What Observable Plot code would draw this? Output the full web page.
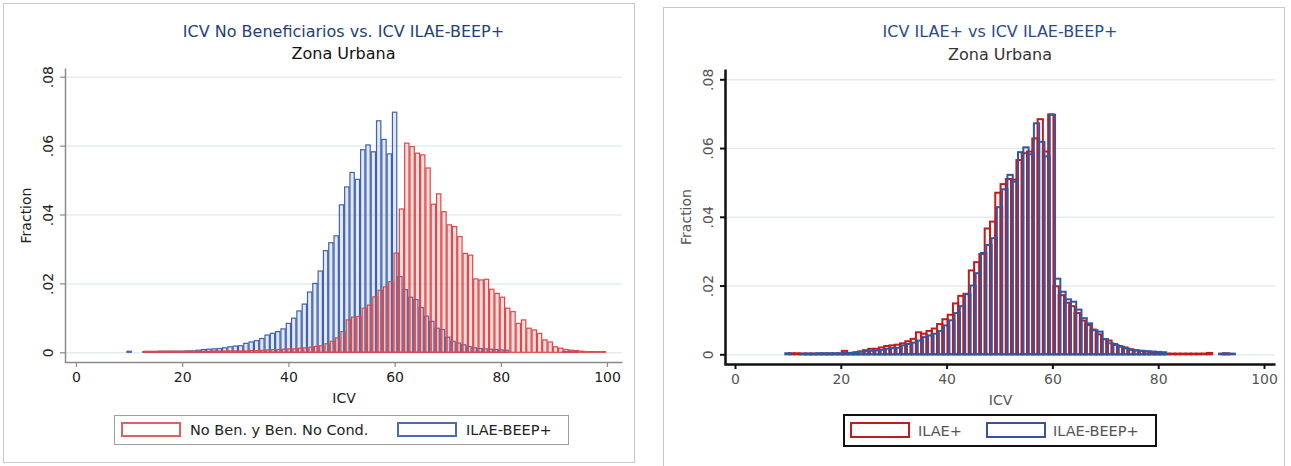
<!DOCTYPE html>
<html><head><meta charset="utf-8">
<script src="https://cdn.jsdelivr.net/npm/d3@7"></script>
<script src="https://cdn.jsdelivr.net/npm/@observablehq/plot@0.6"></script>
<style>
body{margin:0;background:#fff;font-family:"DejaVu Sans",sans-serif;}
#page{position:relative;width:1291px;height:466px;overflow:hidden;background:#fff;}
.panel{position:absolute;box-sizing:border-box;}
.title{position:absolute;text-align:center;font-size:16px;line-height:18px;white-space:nowrap;}
.plot{position:absolute;}
.legend{position:absolute;box-sizing:border-box;background:#fff;}
.item{position:absolute;font-size:14.5px;line-height:16px;white-space:nowrap;}
.swatch{position:absolute;box-sizing:border-box;}
</style>
</head><body>
<div id="page"></div>
<script>
// ---------- DATA (fractions) ----------
const binWidth = 1;
const xTicks = [0, 20, 40, 60, 80, 100];
const yTicks = [0, 0.02, 0.04, 0.06, 0.08];

// ILAE-BEEP+ (blue) — first bin centred at ICV 10
const beepStart = 10;
const beepFraction = [
  0.0003, 0, 0, 0.0002, 0.0002, 0.0002, 0.0003, 0.0003, 0.0003, 0.0003,
  0.0003, 0.0004, 0.0004, 0.0006, 0.0008, 0.0009, 0.0010, 0.0011, 0.0013, 0.0016,
  0.0018, 0.0019, 0.0026, 0.0030, 0.0034, 0.0040, 0.0050, 0.0055, 0.0060, 0.0068,
  0.0084, 0.0099, 0.0120, 0.0140, 0.0175, 0.0200, 0.0236, 0.0295, 0.0318, 0.0338,
  0.0428, 0.0480, 0.0522, 0.0502, 0.0588, 0.0602, 0.0582, 0.0672, 0.0618, 0.0576,
  0.0697, 0.0220, 0.0182, 0.0160, 0.0153, 0.0130, 0.0105, 0.0090, 0.0070, 0.0066,
  0.0044, 0.0032, 0.0027, 0.0022, 0.0017, 0.0013, 0.0011, 0.0010, 0.0009, 0.0008,
  0.0007, 0.0006, 0, 0, 0, 0, 0, 0, 0, 0,
  0, 0, 0.0002, 0.0002, 0.0002
];

// No Ben. y Ben. No Cond. (red, left panel) — first bin centred at ICV 13.3
const noBenStart = 13.3;
const noBenFraction = [
  0.0003, 0.0003, 0.0003, 0.0003, 0.0003, 0.0003, 0.0003,
  0.0003, 0.0003, 0.0003, 0.0003, 0.0003, 0.0003, 0.0004, 0.0004, 0.0004, 0.0004,
  0.0004, 0.0004, 0.0004, 0.0005, 0.0005, 0.0006, 0.0007, 0.0008, 0.0008, 0.0009,
  0.0010, 0.0010, 0.0012, 0.0013, 0.0015, 0.0017, 0.0019, 0.0025, 0.0032, 0.0042,
  0.0060, 0.0094, 0.0102, 0.0104, 0.0128, 0.0137, 0.0161, 0.0180, 0.0190, 0.0205,
  0.0288, 0.0416, 0.0607, 0.0597, 0.0578, 0.0573, 0.0535, 0.0430, 0.0460, 0.0408,
  0.0370, 0.0365, 0.0336, 0.0287, 0.0282, 0.0213, 0.0210, 0.0212, 0.0183, 0.0171,
  0.0160, 0.0128, 0.0118, 0.0084, 0.0094, 0.0070, 0.0065, 0.0055, 0.0036, 0.0030,
  0.0016, 0.0012, 0.0008, 0.0006, 0.0005, 0.0003, 0.0002, 0.0002, 0.0002, 0.0002
];

// ILAE+ (red, right panel) — first bin centred at ICV 10.7
const ilaeStart = 10.7;
const ilaeFraction = [
  0.0003, 0.0003, 0.0002, 0.0002, 0.0002, 0.0002, 0.0002, 0.0002, 0.0002, 0.0002,
  0.0010, 0.0003, 0.0005, 0.0008, 0.0012, 0.0016, 0.0016, 0.0020, 0.0024, 0.0026,
  0.0028, 0.0032, 0.0038, 0.0045, 0.0064, 0.0060, 0.0068, 0.0075, 0.0088, 0.0102,
  0.0115, 0.0148, 0.0170, 0.0176, 0.0244, 0.0268, 0.0292, 0.0366, 0.0386, 0.0470,
  0.0495, 0.0510, 0.0508, 0.0565, 0.0585, 0.0590, 0.0628, 0.0684, 0.0590, 0.0698,
  0.0198, 0.0172, 0.0150, 0.0140, 0.0120, 0.0098, 0.0085, 0.0072, 0.0058, 0.0044,
  0.0040, 0.0030, 0.0024, 0.0020, 0.0015, 0.0012, 0.0010, 0.0008, 0.0006, 0.0005,
  0.0002, 0.0002, 0.0002, 0.0002, 0.0002, 0.0002, 0.0002, 0.0002, 0.0002, 0.0004,
  0, 0, 0.0003
];

const leftTitle = ["ICV No Beneficiarios vs. ICV ILAE-BEEP+", "Zona Urbana"];
const rightTitle = ["ICV ILAE+ vs ICV ILAE-BEEP+", "Zona Urbana"];
const leftLegend = ["No Ben. y Ben. No Cond.", "ILAE-BEEP+"];
const rightLegend = ["ILAE+", "ILAE-BEEP+"];

// ---------- helpers ----------
const bins = (start, fr) => fr.map((f, i) => ({icv: start + i * binWidth, fraction: f})).filter(d => d.fraction > 0);
const fmtY = d => d === 0 ? "0" : d3.format(".2f")(d).replace(/^0/, "");
const page = document.getElementById("page");

function el(tag, cls, style, text) {
  const e = document.createElement(tag);
  if (cls) e.className = cls;
  Object.assign(e.style, style);
  if (text != null) e.textContent = text;
  page.appendChild(e);
  return e;
}

function drawPanel(o) {
  const H = 350, top = 60;
  const fw = o.width - o.marginLeft - o.marginRight;
  const fh = H - o.marginTop - o.marginBottom;
  const marks = [
    Plot.gridY(yTicks, {stroke: o.gridColor, strokeOpacity: 1, strokeWidth: 1.5})
  ];
  for (const s of o.series) {
    marks.push(Plot.rectY(s.data, {
      x1: d => d.icv - binWidth / 2, x2: d => d.icv + binWidth / 2, y: "fraction",
      fill: s.fill, fillOpacity: s.fillOpacity, stroke: s.stroke, strokeWidth: s.strokeWidth,
      insetLeft: s.inset, insetRight: s.inset
    }));
  }
  marks.push(
    Plot.frame({stroke: o.axisColor, strokeWidth: o.axisWidth, strokeDasharray: `0,${fw + fh},${fw + fh}`}),
    Plot.axisX({ticks: xTicks, tickSize: 5, tickPadding: 5, stroke: o.axisColor, strokeWidth: o.axisWidth * 0.8,
      fill: o.textColor, label: "ICV", labelAnchor: "center", labelOffset: 40, labelArrow: "none"}),
    Plot.axisY({ticks: yTicks, tickSize: 5, tickPadding: 8, tickRotate: -90, tickFormat: fmtY,
      stroke: o.axisColor, strokeWidth: o.axisWidth * 0.8, fill: o.textColor,
      label: "Fraction", labelAnchor: "center", labelOffset: 44, labelArrow: "none"})
  );
  const svg = Plot.plot({
    width: o.width, height: H,
    marginLeft: o.marginLeft, marginRight: o.marginRight, marginTop: o.marginTop, marginBottom: o.marginBottom,
    style: {fontFamily: "DejaVu Sans, sans-serif", fontSize: "14px", background: "transparent", overflow: "visible"},
    x: {domain: [0, 100], insetLeft: o.insetLeft, insetRight: o.insetRight},
    y: {domain: [0, 0.08], insetTop: o.insetTop, insetBottom: o.insetBottom},
    marks
  });
  const wrap = el("div", "plot", {left: o.left + "px", top: top + "px"});
  wrap.appendChild(svg);
}

// ---------- left panel ----------
el("div", "panel", {left: "3px", top: "3px", width: "632px", height: "460px", border: "1.5px solid #c9c9c9"});
el("div", "title", {left: "65px", width: "557px", top: "23px", color: "#253f77"}, leftTitle[0]);
el("div", "title", {left: "65px", width: "557px", top: "45px", color: "#111"}, leftTitle[1]);
drawPanel({
  left: 0, width: 636, marginLeft: 65, marginRight: 14, marginTop: 8, marginBottom: 48,
  insetLeft: 11, insetRight: 15, insetTop: 8.7, insetBottom: 9.7,
  axisColor: "#8a8a8a", axisWidth: 1.5, textColor: "#222", gridColor: "#e3ecee",
  series: [
    {data: bins(beepStart, beepFraction), fill: "#7d98d0", fillOpacity: 0.22, stroke: "#3f62ad", strokeWidth: 1.2, inset: 0.5},
    {data: bins(noBenStart, noBenFraction), fill: "#e06b6b", fillOpacity: 0.22, stroke: "#de4848", strokeWidth: 1.2, inset: 0.5}
  ]
});
el("div", "legend", {left: "114px", top: "415px", width: "455px", height: "30px", border: "1.5px solid #9d9d9d"});
el("div", "swatch", {left: "121px", top: "422px", width: "60px", height: "15px", border: "2px solid #e06060"});
el("div", "item", {left: "190px", top: "422px", color: "#222"}, leftLegend[0]);
el("div", "swatch", {left: "397px", top: "422px", width: "60px", height: "15px", border: "2px solid #4a6ab2"});
el("div", "item", {left: "466px", top: "422px", color: "#222"}, leftLegend[1]);

// ---------- right panel ----------
el("div", "panel", {left: "663px", top: "7px", width: "622px", height: "470px", border: "1.5px solid #c9c9c9"});
el("div", "title", {left: "725px", width: "550px", top: "23px", color: "#2a4c8c"}, rightTitle[0]);
el("div", "title", {left: "725px", width: "550px", top: "46px", color: "#333"}, rightTitle[1]);
drawPanel({
  left: 650, width: 641, marginLeft: 75, marginRight: 16, marginTop: 9, marginBottom: 46,
  insetLeft: 10, insetRight: 11, insetTop: 10.3, insetBottom: 9.7,
  axisColor: "#111", axisWidth: 2.5, textColor: "#555", gridColor: "#e3ecee",
  series: [
    {data: bins(ilaeStart, ilaeFraction), fill: "none", fillOpacity: 1, stroke: "#c41a1a", strokeWidth: 2, inset: 0},
    {data: bins(beepStart, beepFraction), fill: "none", fillOpacity: 1, stroke: "#3655a0", strokeWidth: 2, inset: 0}
  ]
});
el("div", "legend", {left: "843px", top: "414px", width: "314px", height: "33px", border: "2px solid #111"});
el("div", "swatch", {left: "850px", top: "422px", width: "60px", height: "16px", border: "2.5px solid #c41a1a"});
el("div", "item", {left: "918px", top: "423px", color: "#555"}, rightLegend[0]);
el("div", "swatch", {left: "986px", top: "422px", width: "60px", height: "16px", border: "2.5px solid #3655a0"});
el("div", "item", {left: "1053px", top: "423px", color: "#555"}, rightLegend[1]);
</script>
</body></html>
